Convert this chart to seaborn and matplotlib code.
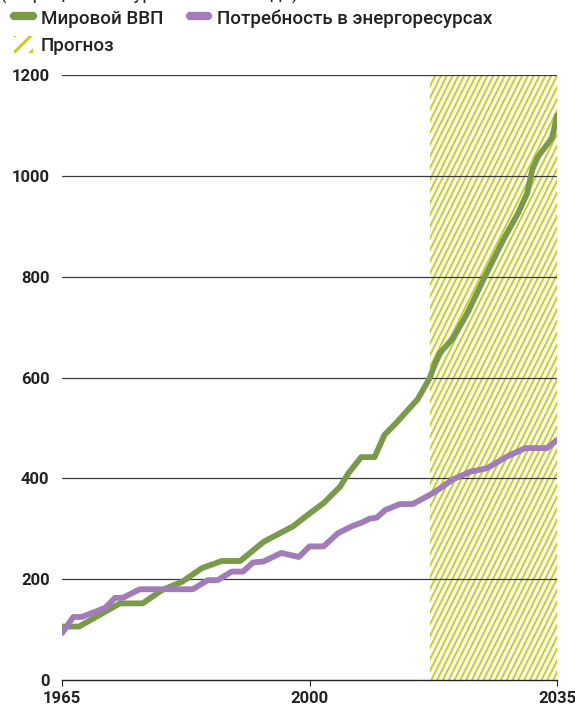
import pandas as pd
import numpy as np
import matplotlib.pyplot as plt
from matplotlib.lines import Line2D
from matplotlib.patches import Patch, Rectangle
import seaborn as sns

# данные (индекс, 1965 = 100)
gdp_years = [1965, 1967.4, 1973.2, 1976.4, 1979.1, 1982, 1984.8, 1987.6, 1990.2, 1993.5,
             1997.7, 1999.7, 2002, 2004.3, 2005.5, 2007.3, 2009.2, 2010.6, 2012.4, 2015.3,
             2017, 2017.8, 2018.4, 2020.3, 2022.3, 2024.8, 2027.4, 2029.5, 2030.8, 2031.5,
             2032.3, 2034.3, 2035]
gdp_values = [106, 106, 152, 152, 178, 195, 222, 236, 236, 274,
              305, 327, 351, 383, 410, 442, 442, 486, 512, 557,
              599, 629, 648, 678, 727, 800, 873, 926, 966, 1012,
              1038, 1075, 1120]

energy_years = [1965, 1966.6, 1967.8, 1971.1, 1972.5, 1973.6, 1976, 1983.5, 1985.6, 1987,
                1989, 1990.6, 1992, 1993.5, 1996, 1998.5, 2000, 2002, 2004, 2006,
                2007.5, 2008.5, 2009.5, 2010.7, 2012.8, 2014.6, 2017.5, 2020.3, 2022.7, 2025.1,
                2027.9, 2030.5, 2033.6, 2035]
energy_values = [93, 125, 125, 143, 163, 163, 180, 180, 198, 198,
                 215, 215, 233, 235, 252, 244, 265, 265, 291, 305,
                 313, 320, 322, 337, 349, 349, 371, 398, 413, 420,
                 443, 460, 460, 476]

forecast_start = 2017
forecast_end = 2035
x_ticks = [1965, 2000, 2035]
y_ticks = [0, 200, 400, 600, 800, 1000, 1200]

green = '#7a9a4b'
purple = '#a27bb9'
hatch_color = '#c8cf1e'
text_color = '#222222'

df_gdp = pd.DataFrame({'year': gdp_years, 'value': gdp_values})
df_energy = pd.DataFrame({'year': energy_years, 'value': energy_values})

sns.set_style('white')
plt.rcParams['font.family'] = ['Roboto', 'DejaVu Sans']
plt.rcParams['hatch.linewidth'] = 2.2
plt.rcParams['hatch.color'] = hatch_color

fig = plt.figure(figsize=(5.75, 7.05), dpi=100)
ax = fig.add_axes([62 / 575, 25 / 705, 495 / 575, 605 / 705])

ax.set_xlim(1965, 2035)
ax.set_ylim(0, 1200)

# зона прогноза: крутая штриховка, обрезанная прямоугольником
zone = Rectangle((forecast_start, 0), forecast_end - forecast_start, 1200,
                 facecolor='none', edgecolor='none')
ax.add_patch(zone)
yr_per_px = 70 / 495
shift = 300 * yr_per_px      # смещение линии по x на всю высоту (~63 градуса)
step = 5.8 * yr_per_px       # шаг штриховки
for x0 in np.arange(forecast_start - shift, forecast_end + step, step):
    ln, = ax.plot([x0, x0 + shift], [0, 1200], color=hatch_color, linewidth=1.4,
                  solid_capstyle='butt', zorder=1)
    ln.set_clip_path(zone)

# сетка
for y in y_ticks[1:]:
    ax.axhline(y, color='#3a3a3a', linewidth=0.9, zorder=2)

sns.lineplot(data=df_gdp, x='year', y='value', color=green, linewidth=4.2, ax=ax, zorder=3)
sns.lineplot(data=df_energy, x='year', y='value', color=purple, linewidth=4.2, ax=ax, zorder=3)

ax.set_xlim(1965, 2035)
ax.set_ylim(0, 1200)
ax.set_xticks(x_ticks)
ax.set_yticks(y_ticks)
ax.set_xlabel('')
ax.set_ylabel('')
for s in ['left', 'right', 'top']:
    ax.spines[s].set_visible(False)
ax.spines['bottom'].set_color(text_color)
ax.spines['bottom'].set_linewidth(1.0)
ax.tick_params(axis='x', direction='out', length=4, width=0.8, color=text_color,
               labelsize=12, pad=4, bottom=True)
ax.tick_params(axis='y', length=0, labelsize=12, pad=9)
for lbl in ax.get_xticklabels() + ax.get_yticklabels():
    lbl.set_fontweight('bold')
    lbl.set_color(text_color)

# подпись, обрезанная сверху
fig.text(0.0, 1.0, '(в процентах к уровню 1965 года)', fontsize=13.5,
         color=text_color, ha='left', va='baseline')

handles = [
    Line2D([0], [0], color=green, linewidth=6, solid_capstyle='round'),
    Patch(facecolor='none', edgecolor=hatch_color, hatch='//', linewidth=0),
    Line2D([0], [0], color=purple, linewidth=6, solid_capstyle='round'),
]
labels = ['Мировой ВВП', 'Прогноз', 'Потребность в энергоресурсах']
leg = fig.legend(handles, labels, ncol=2, loc='upper left',
                 bbox_to_anchor=(12 / 575, 1.0 - 7 / 705),
                 frameon=False, prop={'size': 13.5, 'weight': 'medium'},
                 handlelength=1.0, handleheight=1.0, handletextpad=0.45,
                 columnspacing=1.4, labelspacing=0.45, borderaxespad=0, borderpad=0.1,
                 labelcolor=text_color)

plt.savefig('out.png', dpi=100)
